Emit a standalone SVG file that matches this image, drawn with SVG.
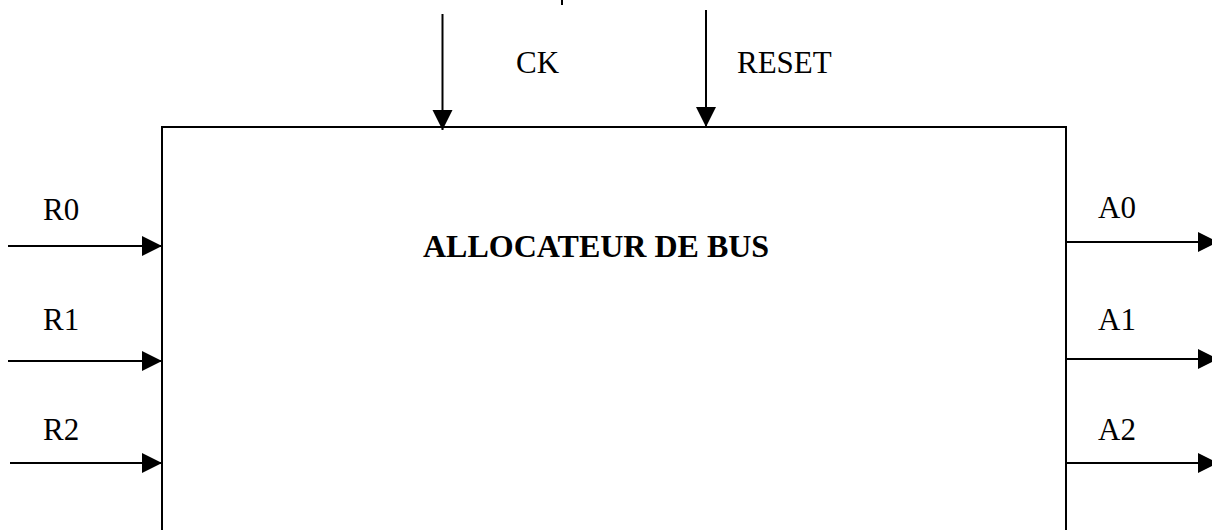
<svg xmlns="http://www.w3.org/2000/svg" width="1212" height="530" viewBox="0 0 1212 530">
<style>
.ln{stroke:#000;stroke-width:2;fill:none}
.t{font-family:"Liberation Serif","Times New Roman",serif;font-size:31px;fill:#000}
.b{font-weight:bold;font-size:32px}
</style>
<defs>
<marker id="ah" markerUnits="userSpaceOnUse" markerWidth="22" markerHeight="22" refX="20" refY="10" orient="auto">
<path d="M0,0 L20,10 L0,20 Z" fill="#000"/>
</marker>
</defs>
<rect width="1212" height="530" fill="#fff"/>
<g id="node-allocateur">
<path class="ln" d="M162,540 L162,127 L1066,127 L1066,540"/>
<text class="t b" x="423" y="257">ALLOCATEUR DE BUS</text>
</g>
<g id="labels">
<text class="t" x="516" y="73">CK</text>
<text class="t" x="737" y="73">RESET</text>
<text class="t" x="43" y="220">R0</text>
<text class="t" x="43" y="330">R1</text>
<text class="t" x="43" y="440">R2</text>
<text class="t" x="1098" y="218">A0</text>
<text class="t" x="1098" y="330">A1</text>
<text class="t" x="1098" y="440">A2</text>
</g>
<g id="connectors">
<line class="ln" x1="562" y1="0" x2="562" y2="5"/>
<line class="ln" x1="442.5" y1="14" x2="442.5" y2="130" marker-end="url(#ah)"/>
<line class="ln" x1="706" y1="10" x2="706" y2="127" marker-end="url(#ah)"/>
<line class="ln" x1="8" y1="246" x2="162" y2="246" marker-end="url(#ah)"/>
<line class="ln" x1="8" y1="361" x2="162" y2="361" marker-end="url(#ah)"/>
<line class="ln" x1="10" y1="463" x2="162" y2="463" marker-end="url(#ah)"/>
<line class="ln" x1="1066" y1="242" x2="1218" y2="242" marker-end="url(#ah)"/>
<line class="ln" x1="1066" y1="359" x2="1218" y2="359" marker-end="url(#ah)"/>
<line class="ln" x1="1066" y1="463" x2="1218" y2="463" marker-end="url(#ah)"/>
</g>
</svg>
